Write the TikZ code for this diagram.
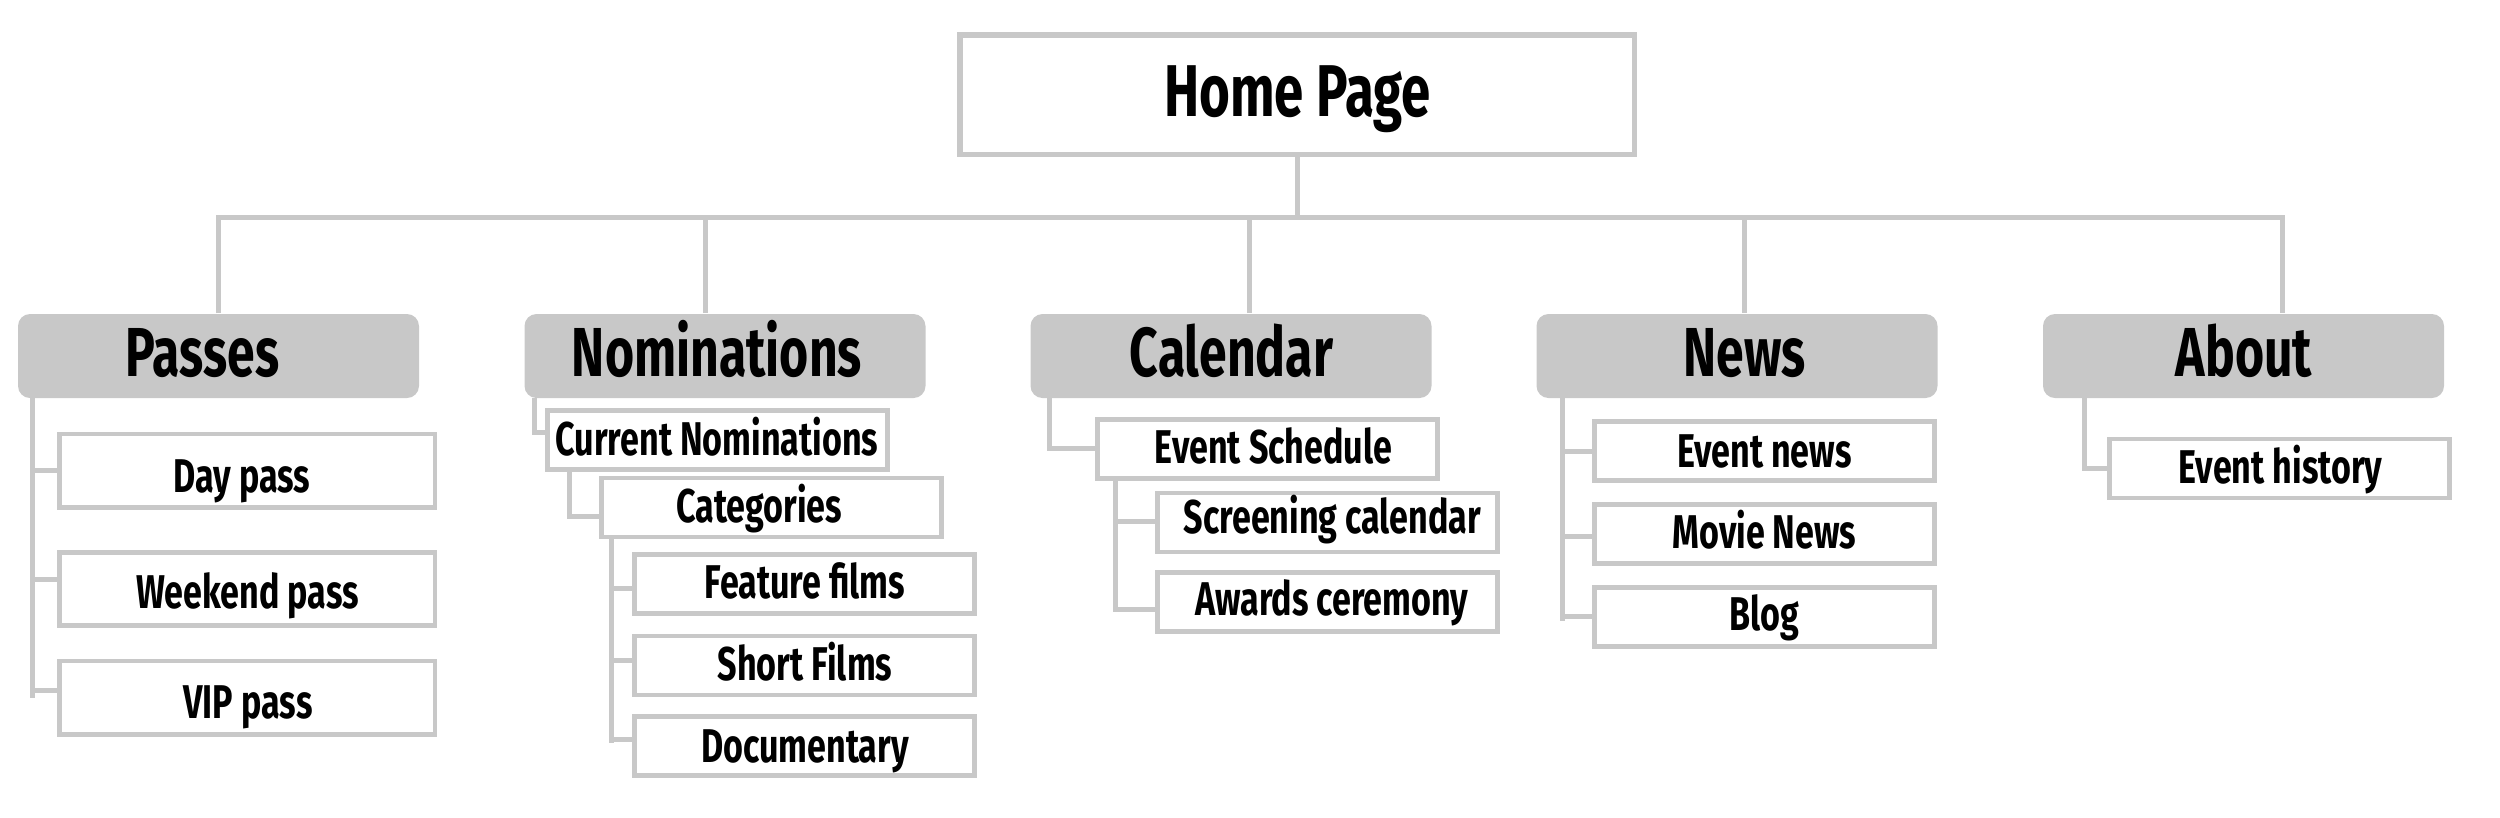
\documentclass[tikz,border=0pt]{standalone}
\usepackage{fontspec}
\newfontfamily\cfont{Fira Sans}[FakeStretch=0.72]
\usetikzlibrary{calc}
\definecolor{lg}{RGB}{200,200,200}
\tikzset{
  conn/.style={draw=lg, line width=1.5pt},
  homebox/.style={draw=lg, fill=white, line width=1.6pt, minimum width=202.35pt, minimum height=35.85pt, inner sep=0pt},
  catbox/.style={fill=lg, draw=none, rounded corners=3.6pt, minimum width=120.3pt, minimum height=25.2pt, inner sep=0pt},
  childbox/.style={draw=lg, fill=white, line width=1.4pt, minimum width=102pt, minimum height=17.7pt, inner sep=0pt},
  passbox/.style={childbox, minimum width=112.65pt, minimum height=22pt},
  hometext/.style={anchor=base, inner sep=0pt, font=\cfont\bfseries\fontsize{22pt}{25pt}\selectfont},
  cattext/.style={anchor=base, inner sep=0pt, font=\cfont\bfseries\fontsize{20.8pt}{24pt}\selectfont},
  childtext/.style={anchor=base, inner sep=0pt, font=\cfont\bfseries\fontsize{14.2pt}{16pt}\selectfont},
}
\begin{document}
\begin{tikzpicture}[x=0.3pt, y=-0.3pt]
\useasboundingbox (0,0) rectangle (2500,817);

% ---------- boxes ----------
\node[homebox] (home) at (1297.25,94.75) {};
\node[catbox] (passes) at (218.5,356) {};
\node[catbox] (nom) at (725,356) {};
\node[catbox] (cal) at (1231,356) {};
\node[catbox] (news) at (1737,356) {};
\node[catbox] (about) at (2243.5,356) {};

\node[passbox] (day) at (247.25,470.5) {};
\node[passbox] (week) at (247.25,589) {};
\node[passbox] (vip) at (247.25,697.75) {};

\node[childbox] (curnom) at (717.5,440) {};
\node[childbox] (categ) at (771.5,507.5) {};
\node[childbox] (feat) at (804.5,584) {};
\node[childbox] (short) at (804.5,665.5) {};
\node[childbox] (docu) at (804.5,746) {};

\node[childbox] (sched) at (1267.5,449) {};
\node[childbox] (screen) at (1327.5,522.5) {};
\node[childbox] (award) at (1327.5,602) {};

\node[childbox] (evnews) at (1764.5,451) {};
\node[childbox] (movie) at (1764.5,534) {};
\node[childbox] (blog) at (1764.5,617) {};

\node[childbox] (hist) at (2279.5,468.5) {};

% ---------- texts ----------
\node[hometext] (homeT) at (1297.5,116) {Home Page};
\node[cattext] (passesT) at (202.5,376) {Passes};
\node[cattext] (nomT) at (717,376) {Nominations};
\node[cattext] (calT) at (1231.5,376) {Calendar};
\node[cattext] (newsT) at (1744.5,376) {News};
\node[cattext] (aboutT) at (2244,376) {About};

\node[childtext] (dayT) at (242,492) {Day pass};
\node[childtext] (weekT) at (247.5,608) {Weekend pass};
\node[childtext] (vipT) at (248,718) {VIP pass};

\node[childtext] (curnomT) at (717,455) {Current Nominations};
\node[childtext] (categT) at (759,522) {Categories};
\node[childtext] (featT) at (805,598) {Feature films};
\node[childtext] (shortT) at (805,680) {Short Films};
\node[childtext] (docuT) at (805,762) {Documentary};

\node[childtext] (schedT) at (1273.5,463) {Event Schedule};
\node[childtext] (screenT) at (1332.5,533) {Screening calendar};
\node[childtext] (awardT) at (1332,615) {Awards ceremony};

\node[childtext] (evnewsT) at (1764.5,467) {Event news};
\node[childtext] (movieT) at (1764.5,548) {Movie News};
\node[childtext] (blogT) at (1764.5,630) {Blog};

\node[childtext] (histT) at (2280.5,483) {Event history};

% ---------- top level connectors ----------
\coordinate (hl) at (218,217.5);
\coordinate (hr) at (2282,217.5);
\coordinate (dN) at (705,217.5);
\coordinate (dC) at (1249,217.5);
\coordinate (dW) at (1744,217.5);
\draw[conn] (hl |- passes.north) -- (hl) -- (hr) -- (hr |- about.north);
\draw[conn] (home.south) -- (home.south |- hl);
\draw[conn] (dN) -- (dN |- nom.north);
\draw[conn] (dC) -- (dC |- cal.north);
\draw[conn] (dW) -- (dW |- news.north);

% ---------- Passes ----------
\coordinate (pv) at (32,398);
\draw[conn] (pv) -- (pv |- vip.west);
\draw[conn] (pv |- day.west) -- (day.west);
\draw[conn] ($(pv |- week.west)+(0,-10)$) -- ($(week.west)+(0,-10)$);
\draw[conn] ($(pv |- vip.west)+(0,-7.5)$) -- ($(vip.west)+(0,-7.5)$);

% ---------- Nominations ----------
\coordinate (nv) at (534,398);
\draw[conn] (nv) |- ($(curnom.west)+(0,-8)$);
\coordinate (cv) at (569,469.5);
\draw[conn] (cv) |- ($(categ.west)+(0,8.5)$);
\coordinate (gv) at (611,536.5);
\draw[conn] (gv) -- ($(gv |- docu.west)+(0,-3)$);
\draw[conn] ($(gv |- feat.west)+(0,4)$) -- ($(feat.west)+(0,4)$);
\draw[conn] ($(gv |- short.west)+(0,-5.5)$) -- ($(short.west)+(0,-5.5)$);
\draw[conn] ($(gv |- docu.west)+(0,-7)$) -- ($(docu.west)+(0,-7)$);

% ---------- Calendar ----------
\coordinate (kv) at (1049,398);
\draw[conn] (kv) |- ($(sched.west)+(0,-1)$);
\coordinate (sv) at (1115,478.5);
\draw[conn] (sv) -- ($(sv |- award.west)+(0,10)$);
\draw[conn] ($(sv |- screen.west)+(0,-1.5)$) -- ($(screen.west)+(0,-1.5)$);
\draw[conn] ($(sv |- award.west)+(0,7)$) -- ($(award.west)+(0,7)$);

% ---------- News ----------
\coordinate (wv) at (1562.5,398);
\draw[conn] (wv) -- ($(wv |- blog.west)+(0,4)$);
\draw[conn] (wv |- evnews.west) -- (evnews.west);
\draw[conn] ($(wv |- movie.west)+(0,2)$) -- ($(movie.west)+(0,2)$);
\draw[conn] ($(wv |- blog.west)+(0,-1)$) -- ($(blog.west)+(0,-1)$);

% ---------- About ----------
\coordinate (av) at (2084.5,398);
\draw[conn] (av) |- (hist.west);
\end{tikzpicture}
\end{document}
